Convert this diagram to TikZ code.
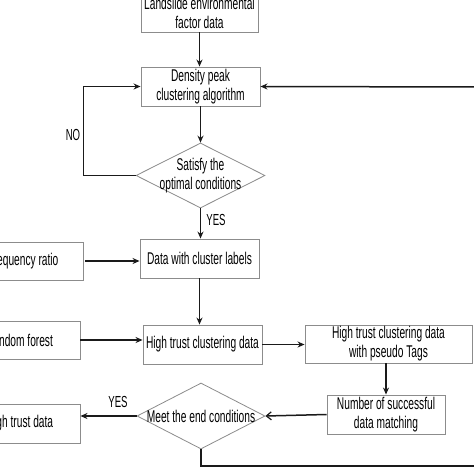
\documentclass[tikz,border=0pt]{standalone}
\usepackage{fontspec}
\setmainfont{Liberation Sans}[FakeStretch=0.6]
\usetikzlibrary{shapes.geometric,arrows.meta}
\definecolor{boxgray}{HTML}{8C8C8C}
\definecolor{linec}{HTML}{1A1A1A}
\begin{document}
\begin{tikzpicture}[x=1pt,y=-1pt,
  txt/.style={font=\fontsize{17}{19}\selectfont,align=center,text=black},
  box/.style={txt,draw=boxgray,line width=0.9pt,rectangle,inner sep=0pt},
  dia/.style={draw=boxgray,line width=0.8pt,diamond,inner sep=0pt},
  conn/.style={draw=linec,line width=1.5pt,-{Stealth[length=7pt,width=6pt]}},
  connb/.style={draw=linec,line width=1.5pt,-{Straight Barb[length=5pt,width=8pt,line width=1.2pt]}},
  plain/.style={draw=linec,line width=1.5pt},
  lbl/.style={font=\fontsize{16}{18}\selectfont,text=black}]
\useasboundingbox (0,0) rectangle (474,474);
\clip (0,0) rectangle (474,474);
\fill[white] (0,0) rectangle (474,474);
% boxes
\node[box,minimum width=117pt,minimum height=38pt] (top) at (199.5,13) {Landslide environmental\\factor data};
\node[box,minimum width=119pt,minimum height=39pt] (dpc) at (200.5,86.5) {Density peak\\clustering algorithm};
\node[dia,minimum width=129pt,minimum height=65pt,label={[txt]center:{Satisfy the\\optimal conditions}}] (d1) at (200.5,175.5) {};
\node[box,minimum width=119pt,minimum height=39pt] (dcl) at (199.5,258.5) {Data with cluster labels};
\node[box,minimum width=120pt,minimum height=38pt] (freq) at (23,261) {Frequency ratio};
\node[box,minimum width=119pt,minimum height=39pt] (htc) at (202.5,344.5) {High trust clustering data};
\node[box,minimum width=121pt,minimum height=38pt] (rf) at (19.5,340) {Random forest};
\node[box,minimum width=167pt,minimum height=38pt] (pseudo) at (388.5,344) {High trust clustering data\\with pseudo Tags};
\node[box,minimum width=118pt,minimum height=39pt] (nsm) at (386,414.5) {Number of successful\\data matching};
\node[dia,minimum width=128pt,minimum height=66pt,label={[txt]center:{Meet the end conditions}}] (d2) at (201,416) {};
\node[box,minimum width=120pt,minimum height=39pt] (htd) at (20,423.5) {High trust data};
% labels
\node[lbl] (no) at (73,135) {NO};
\node[lbl] (yes1) at (216,220) {YES};
\node[lbl] (yes2) at (118,402) {YES};
% free ends
\coordinate (rin) at (480,87);
\coordinate (bot) at (480,466);
% connectors
\draw[conn] (top.south) -- (top.south |- dpc.north);
\draw[conn] (dpc.south) -- (d1.north);
\draw[conn] (d1.west) -- ++(-52,0) |- (dpc.west);
\draw[conn] (rin) -- (dpc.east);
\draw[conn] (d1.south) -- (dcl.north -| d1.south);
\draw[conn] ([xshift=2pt]freq.east) -- (freq.east -| dcl.west);
\draw[conn] (dcl.south) -- (dcl.south |- htc.north);
\draw[conn] (rf.east) -- (rf.east -| htc.west);
\draw[conn] (htc.east) -- (htc.east -| pseudo.west);
\draw[conn] (pseudo.south -| nsm.north) -- (nsm.north);
\draw[connb] (nsm.west) -- (d2.east);
\draw[conn] (d2.west) -- (d2.west -| htd.east);
\draw[plain] (d2.south) |- (bot);
\end{tikzpicture}
\end{document}
